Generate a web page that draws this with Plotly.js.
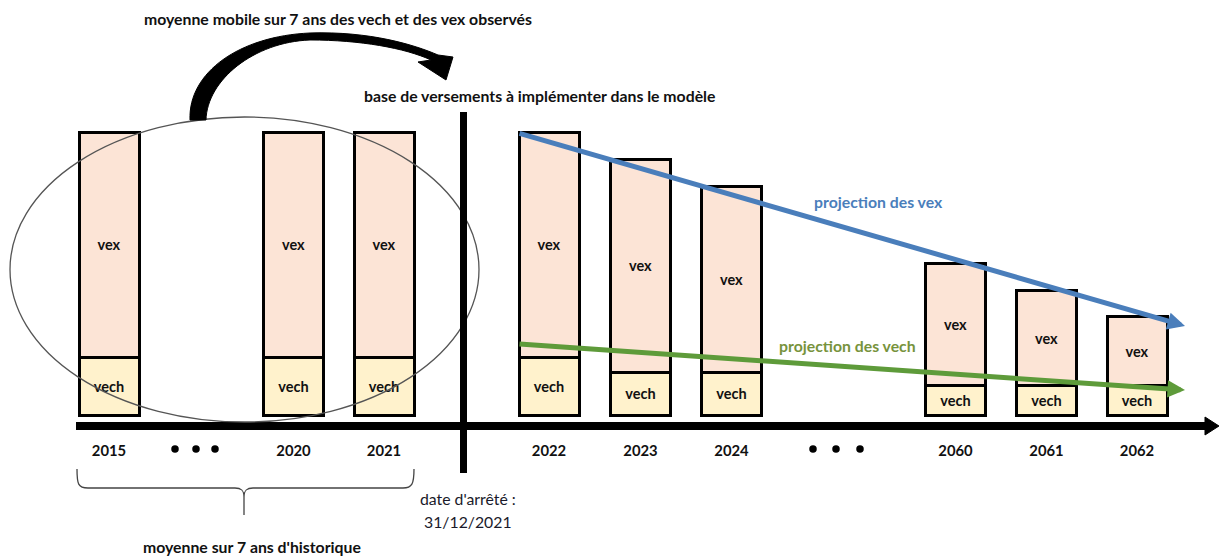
<!DOCTYPE html>
<html>
<head>
<meta charset="utf-8">
<script src="https://cdn.plot.ly/plotly-3.0.1.min.js"></script>
<style>html,body{margin:0;padding:0;background:#fff;}#chart{width:1220px;height:556px;}</style>
</head>
<body>
<div id="chart"></div>
<script>
// ---- data ----
const years = ['2015', '2020', '2021', '2022', '2023', '2024', '2060', '2061', '2062'];
const slotX = [109, 293.5, 384, 549, 640.5, 731.5, 955.5, 1046.5, 1137];
const vech = [1.93, 1.93, 1.93, 1.93, 1.43, 1.43, 0.97, 0.97, 0.97];
const vex = [7.5, 7.5, 7.5, 7.5, 7.1, 6.2, 4.07, 3.17, 2.3];
const ellipsisX = [175, 196, 215, 813, 836, 860];
const projX = [518, 1185];
const projVex = [9.4, 2.97];
const projVech = [2.37, 0.83];

// ---- helpers (pixel -> paper) ----
const W = 1220, H = 556;
const X = p => p / W;
const Y = p => 1 - p / H;
const FONT = 'Lato, "Open Sans", sans-serif';
const PXU = 30, BASE = 415; // px per unit, baseline px
const yMin = -(H - BASE) / PXU, yMax = BASE / PXU;
const TS = 15.8;

function path(cmds) {
  return cmds.map(c => {
    if (typeof c === 'string') return c;
    return c.map((v, i) => (i % 2 === 0 ? X(v) : Y(v)).toFixed(5)).join(',');
  }).join(' ');
}

const traces = [
  {
    type: 'bar', x: slotX, y: vech, width: 60, name: 'vech',
    marker: {color: '#FFF2CC', line: {color: '#000', width: 3}},
    text: vech.map(() => '<b>vech</b>'), textposition: 'inside', insidetextanchor: 'middle',
    textangle: 0, constraintext: 'none',
    textfont: {family: FONT, size: 14.5, color: '#111'}, hoverinfo: 'skip'
  },
  {
    type: 'bar', x: slotX, y: vex, width: 60, name: 'vex',
    marker: {color: '#FCE4D6', line: {color: '#000', width: 3}},
    text: vex.map(() => '<b>vex</b>'), textposition: 'inside', insidetextanchor: 'middle',
    textangle: 0, constraintext: 'none',
    textfont: {family: FONT, size: 14.5, color: '#111'}, hoverinfo: 'skip'
  },
  {
    type: 'scatter', mode: 'markers', x: ellipsisX, y: ellipsisX.map(() => -(449 - BASE) / PXU),
    marker: {color: '#000', size: 7.5}, cliponaxis: false, hoverinfo: 'skip'
  }
];

const shapes = [
  // ellipse
  {type: 'circle', xref: 'paper', yref: 'paper', x0: X(10), x1: X(479), y0: Y(422), y1: Y(117),
   line: {color: '#555', width: 1.3}, layer: 'above'},
  // vertical cut-off line
  {type: 'line', xref: 'paper', yref: 'paper', x0: X(463.5), x1: X(463.5), y0: Y(112), y1: Y(473),
   line: {color: '#000', width: 7}, layer: 'above'},
  // timeline arrowhead
  {type: 'path', xref: 'paper', yref: 'paper', path: path(['M', [1205, 417], 'L', [1219, 426], 'L', [1205, 435], 'Z']),
   fillcolor: '#000', line: {color: '#000', width: 1}, layer: 'above'},
  // curved arrow
  {type: 'path', xref: 'paper', yref: 'paper', layer: 'above', fillcolor: '#000', line: {color: '#000', width: 1},
   path: path(['M', [190, 120], 'C', [188, 72], [240, 36], [310, 33],
               'C', [370, 31], [415, 45], [438, 55], 'L', [453, 57], 'L', [446, 80], 'L', [418, 62], 'L', [431, 60],
               'C', [405, 48], [360, 40], [310, 40], 'C', [254, 42], [207, 80], [206, 120], 'Z'])},
  // brace
  {type: 'path', xref: 'paper', yref: 'paper', layer: 'above', line: {color: '#444', width: 1.3},
   path: path(['M', [77, 469], 'C', [77, 484], [78, 488], [88, 488], 'L', [235, 488],
               'C', [241, 488], [244, 490], [244, 497], 'L', [244, 515],
               'M', [244, 497], 'C', [244, 490], [247, 488], [253, 488], 'L', [403, 488],
               'C', [412, 488], [414, 484], [414, 469]])}
];

function txt(t, px, py, opts) {
  return Object.assign({text: t, xref: 'paper', yref: 'paper', x: X(px), y: Y(py), xanchor: 'center', yanchor: 'middle',
    showarrow: false, font: {family: FONT, size: TS, color: '#111'}}, opts || {});
}

const annotations = [
  txt('<b>moyenne mobile sur 7 ans des vech et des vex observés</b>', 338, 18),
  txt('<b>base de versements à implémenter dans le modèle</b>', 539, 95),
  txt('<b>projection des vex</b>', 878, 202, {font: {family: FONT, size: TS, color: '#4A7EBB'}}),
  txt('<b>projection des vech</b>', 847, 345, {font: {family: FONT, size: TS, color: '#77933C'}}),
  txt('date d\'arrêté :', 468, 498, {font: {family: FONT, size: TS, color: '#1a1a2a'}}),
  txt('31/12/2021', 468, 521, {font: {family: FONT, size: TS, color: '#1a1a2a'}}),
  txt('<b>moyenne sur 7 ans d\'historique</b>', 252, 546),
  {x: projX[1], y: projVex[1], ax: projX[0], ay: projVex[0], xref: 'x', yref: 'y', axref: 'x', ayref: 'y',
   text: '', showarrow: true, arrowhead: 2, arrowsize: 0.7, arrowwidth: 5, arrowcolor: '#4A7EBB'},
  {x: projX[1], y: projVech[1], ax: projX[0], ay: projVech[0], xref: 'x', yref: 'y', axref: 'x', ayref: 'y',
   text: '', showarrow: true, arrowhead: 2, arrowsize: 0.7, arrowwidth: 5, arrowcolor: '#5E9B3A'}
];

const layout = {
  width: W, height: H,
  margin: {l: 0, r: 0, t: 0, b: 0},
  paper_bgcolor: '#fff', plot_bgcolor: 'rgba(0,0,0,0)',
  barmode: 'stack', showlegend: false,
  xaxis: {domain: [X(76), X(1208)], range: [76, 1208], anchor: 'free', position: (H - 426) / H,
    showline: true, linecolor: '#000', linewidth: 8, showgrid: false, zeroline: false,
    tickvals: slotX, ticktext: years.map(y => '<b>' + y + '</b>'), ticks: '', ticklabelstandoff: 8,
    tickfont: {family: FONT, size: 14.8, color: '#111'}, fixedrange: true},
  yaxis: {domain: [0, 1], range: [yMin, yMax], visible: false, showgrid: false, zeroline: false, fixedrange: true},
  shapes: shapes,
  annotations: annotations,
  font: {family: FONT}
};

Plotly.newPlot('chart', traces, layout, {displayModeBar: false, staticPlot: true});
</script>
</body>
</html>
